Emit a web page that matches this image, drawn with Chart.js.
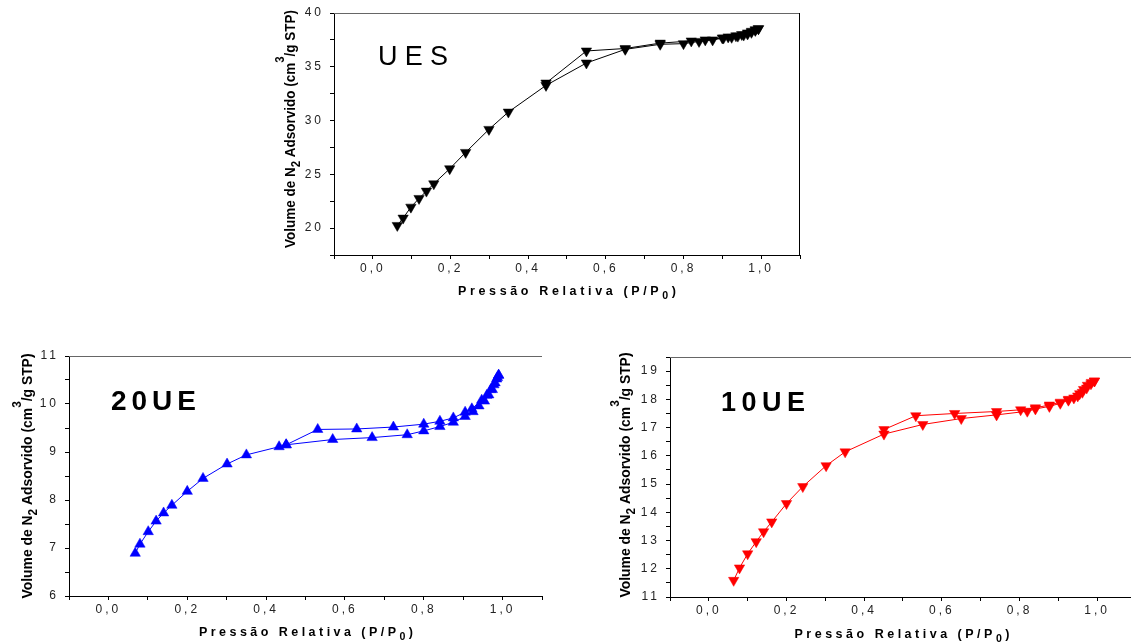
<!DOCTYPE html>
<html><head><meta charset="utf-8">
<script src="https://cdn.jsdelivr.net/npm/chart.js@4"></script>
<style>
html,body{margin:0;padding:0;width:1131px;height:643px;overflow:hidden;background:#fff;position:relative;}
canvas{position:absolute;}
</style></head><body>
<script>
// ---------- DATA ----------
const xTickValues = [0, 0.2, 0.4, 0.6, 0.8, 1.0];
const xTickLabels = ['0,0', '0,2', '0,4', '0,6', '0,8', '1,0'];

// UES (black)
const uesAdsP = [0.063,0.078,0.098,0.119,0.138,0.157,0.198,0.239,0.299,0.349,0.446,0.550,0.650,0.740,0.800,0.840,0.875,0.903,0.924,0.940,0.955,0.965,0.975,0.985,0.993];
const uesAdsV = [20.25,20.93,21.95,22.76,23.44,24.12,25.52,27.04,29.18,30.79,33.27,35.35,36.62,37.09,37.15,37.36,37.50,37.67,37.74,37.85,37.95,38.05,38.20,38.38,38.54];
const uesDesP = [0.993,0.985,0.975,0.965,0.950,0.935,0.915,0.900,0.856,0.820,0.740,0.650,0.550,0.446];
const uesDesV = [38.54,38.45,38.30,38.15,38.00,37.88,37.78,37.68,37.50,37.40,37.20,36.70,36.47,33.49];
const uesYTicks = [20, 25, 30, 35, 40];

// 20UE (blue)
const ue20AdsP = [0.068,0.080,0.101,0.121,0.140,0.161,0.200,0.240,0.301,0.350,0.433,0.451,0.569,0.669,0.758,0.800,0.841,0.875,0.905,0.925,0.940,0.954,0.965,0.974,0.981,0.987,0.990];
const ue20AdsV = [6.89,7.08,7.34,7.56,7.73,7.89,8.18,8.45,8.75,8.94,9.11,9.15,9.26,9.30,9.36,9.44,9.53,9.62,9.74,9.84,9.96,10.06,10.19,10.30,10.44,10.55,10.60];
const ue20DesP = [0.990,0.985,0.978,0.970,0.960,0.947,0.922,0.905,0.875,0.841,0.800,0.723,0.630,0.531,0.451];
const ue20DesV = [10.60,10.52,10.40,10.30,10.18,10.08,9.90,9.83,9.71,9.64,9.58,9.52,9.48,9.47,9.15];
const ue20YTicks = [6, 7, 8, 9, 10, 11];

// 10UE (red)
const ue10AdsP = [0.064,0.079,0.100,0.122,0.141,0.162,0.200,0.242,0.302,0.351,0.451,0.551,0.650,0.741,0.820,0.841,0.877,0.905,0.926,0.950,0.962,0.973,0.984,0.993];
const ue10AdsV = [11.59,12.03,12.53,12.96,13.31,13.66,14.31,14.91,15.65,16.14,16.77,17.11,17.32,17.45,17.58,17.66,17.75,17.86,17.97,18.12,18.25,18.40,18.55,18.65];
const ue10DesP = [0.993,0.985,0.975,0.965,0.955,0.940,0.926,0.905,0.877,0.841,0.803,0.741,0.633,0.533,0.451];
const ue10DesV = [18.65,18.60,18.50,18.35,18.20,18.05,18.00,17.90,17.80,17.70,17.63,17.57,17.50,17.42,16.93];
const ue10YTicks = [11, 12, 13, 14, 15, 16, 17, 18, 19];

// ---------- TEXT ----------
const yTitleSegs = [{t:'Volume de N'},{t:'2',s:'sub'},{t:' Adsorvido (cm'},{t:'3',s:'sup'},{t:'/g STP)'}];
const xTitleSegs = [{t:'Pressão Relativa (P/P'},{t:'0',s:'sub'},{t:')'}];
const FONT = '"Liberation Sans", Arial, sans-serif';

function segFont(seg, size, weight){
  const sz = seg.s ? size*0.85 : size;
  return `${weight} ${sz}px ${FONT}`;
}
function measureSegs(ctx, segs, size, weight, spacing){
  let w = 0, n = 0;
  for (const sg of segs){
    ctx.font = segFont(sg, size, weight);
    ctx.letterSpacing = spacing + 'px';
    w += ctx.measureText(sg.t).width;
    n += sg.t.length;
  }
  return {w, n};
}
function drawRich(ctx, segs, o){
  ctx.save();
  ctx.translate(o.x, o.y);
  ctx.rotate(o.rot || 0);
  ctx.fillStyle = o.color || '#000';
  ctx.textAlign = 'left';
  ctx.textBaseline = 'alphabetic';
  let spacing = o.spacing || 0;
  let sx = 1;
  const m0 = measureSegs(ctx, segs, o.size, o.weight, 0);
  if (o.fit === 'spacing') spacing = (o.len - m0.w) / Math.max(1, m0.n - 1);
  const m = measureSegs(ctx, segs, o.size, o.weight, spacing);
  const total = m.w - spacing;
  if (o.fit === 'scale') sx = o.len / total;
  ctx.scale(sx, 1);
  let x = o.align === 'left' ? 0 : -total/2;
  for (const sg of segs){
    ctx.font = segFont(sg, o.size, o.weight);
    ctx.letterSpacing = spacing + 'px';
    const dy = sg.s === 'sub' ? o.size*0.35 : (sg.s === 'sup' ? -o.size*0.8 : 0);
    ctx.fillText(sg.t, x, dy);
    x += ctx.measureText(sg.t).width;
  }
  ctx.restore();
}

function labelFor(v, vals, labs){
  for (let i = 0; i < vals.length; i++) if (Math.abs(v - vals[i]) < 1e-6) return labs[i];
  return '';
}
function range(a, b, step){
  const out = []; const n = Math.round((b - a)/step);
  for (let i = 0; i <= n; i++) out.push(+(a + i*step).toFixed(6));
  return out;
}

function makeChart(opt){
  const W_AX = 80, PAD_T = 15, PAD_R = 15, H_AX = 50;
  const pw = opt.plot.right - opt.plot.left, ph = opt.plot.bottom - opt.plot.top;
  const cw = pw + W_AX + PAD_R, ch = ph + PAD_T + H_AX;
  const cl = opt.plot.left - W_AX, ct = opt.plot.top - PAD_T;
  const canvas = document.createElement('canvas');
  canvas.width = cw; canvas.height = ch;
  canvas.style.left = cl + 'px'; canvas.style.top = ct + 'px';
  canvas.style.width = cw + 'px'; canvas.style.height = ch + 'px';
  document.body.appendChild(canvas);

  const deco = {
    id: 'deco',
    beforeDraw(chart){ chart.ctx.letterSpacing = '3px'; },
    afterDraw(chart){
      const ctx = chart.ctx, a = chart.chartArea;
      ctx.save();
      ctx.letterSpacing = '0px';
      ctx.lineWidth = 1;
      ctx.strokeStyle = '#666';
      ctx.beginPath();
      ctx.moveTo(a.left, Math.round(a.top) + 0.5);
      ctx.lineTo(a.right, Math.round(a.top) + 0.5);
      ctx.stroke();
      if (opt.rightBorder){
        ctx.strokeStyle = '#000';
        ctx.beginPath();
        ctx.moveTo(Math.round(a.right) - 0.5, a.top);
        ctx.lineTo(Math.round(a.right) - 0.5, a.bottom);
        ctx.stroke();
      }
      ctx.restore();
      // y title
      drawRich(ctx, yTitleSegs, {x: opt.yTitle.x - cl, y: opt.yTitle.y - ct, rot: -Math.PI/2,
        size: 14, weight: 'bold', fit: 'scale', len: opt.yTitle.len});
      // x title
      drawRich(ctx, xTitleSegs, {x: opt.xTitle.x - cl, y: opt.xTitle.y - ct,
        size: 12.5, weight: 'bold', fit: 'spacing', len: opt.xTitle.len});
      // sample label
      drawRich(ctx, [{t: opt.label.text}], {x: opt.label.x - cl, y: opt.label.y - ct, align: 'left',
        size: opt.label.size, weight: opt.label.weight, fit: 'spacing', len: opt.label.len});
      ctx.letterSpacing = '0px';
    }
  };

  const mk = (px, py) => ({
    data: px.map((v, i) => ({x: v, y: py[i]})),
    showLine: true,
    borderColor: opt.color,
    backgroundColor: opt.color,
    borderWidth: 1,
    pointStyle: 'triangle',
    pointRotation: opt.rot,
    pointRadius: opt.r,
    pointHoverRadius: opt.r,
    pointBorderWidth: 0.5,
    pointBorderColor: opt.color
  });

  const tickFont = {family: FONT, size: 12};
  new Chart(canvas, {
    type: 'scatter',
    data: {datasets: [mk(opt.ads[0], opt.ads[1]), mk(opt.des[0], opt.des[1])]},
    options: {
      responsive: false, devicePixelRatio: 1, animation: false, events: [],
      plugins: {legend: {display: false}, tooltip: {enabled: false}},
      layout: {autoPadding: false, padding: {left: 0, top: PAD_T, right: PAD_R, bottom: 0}},
      scales: {
        x: {
          type: 'linear', position: 'bottom', min: -0.1, max: 1.1,
          afterBuildTicks: s => { s.ticks = range(-0.1, 1.1, 0.1).map(v => ({value: v})); },
          afterFit: s => { s.height = H_AX; },
          ticks: {autoSkip: false, maxRotation: 0, minRotation: 0, padding: 2, color: '#222', font: tickFont,
            callback: v => labelFor(v, xTickValues, xTickLabels)},
          grid: {drawOnChartArea: false, drawTicks: true, tickLength: 4, color: '#000', lineWidth: 1},
          border: {display: true, color: '#000', width: 1}
        },
        y: {
          type: 'linear', position: 'left', min: opt.yMin, max: opt.yMax,
          afterBuildTicks: s => { s.ticks = range(opt.yMin, opt.yMax, opt.yMinor).map(v => ({value: v})); },
          afterFit: s => { s.width = W_AX; },
          ticks: {autoSkip: false, padding: 6, color: '#222', font: tickFont,
            callback: v => labelFor(v, opt.yTicks, opt.yTicks.map(String))},
          grid: {drawOnChartArea: false, drawTicks: true, tickLength: 4, color: '#000', lineWidth: 1},
          border: {display: true, color: '#000', width: 1}
        }
      }
    },
    plugins: [deco]
  });
}

// UES
makeChart({
  plot: {left: 334, top: 13, right: 800, bottom: 255},
  yMin: 17.5, yMax: 40, yMinor: 2.5, yTicks: uesYTicks,
  color: '#000', rot: 180, r: 6, rightBorder: true,
  ads: [uesAdsP, uesAdsV], des: [uesDesP, uesDesV],
  yTitle: {x: 295, y: 129, len: 238},
  xTitle: {x: 567, y: 295, len: 218},
  label: {text: 'UES', x: 378, y: 65, size: 27, weight: 'normal', len: 70}
});
// 20UE
makeChart({
  plot: {left: 69, top: 356, right: 542, bottom: 596},
  yMin: 6, yMax: 11, yMinor: 0.5, yTicks: ue20YTicks,
  color: '#0000ff', rot: 0, r: 6, rightBorder: false,
  ads: [ue20AdsP, ue20AdsV], des: [ue20DesP, ue20DesV],
  yTitle: {x: 32, y: 476, len: 245},
  xTitle: {x: 306, y: 636, len: 214},
  label: {text: '20UE', x: 111, y: 410, size: 28, weight: 'bold', len: 85}
});
// 10UE
makeChart({
  plot: {left: 670, top: 357, right: 1136, bottom: 597},
  yMin: 11, yMax: 19.5, yMinor: 0.5, yTicks: ue10YTicks,
  color: '#ff0000', rot: 180, r: 6, rightBorder: false,
  ads: [ue10AdsP, ue10AdsV], des: [ue10DesP, ue10DesV],
  yTitle: {x: 630, y: 475, len: 245},
  xTitle: {x: 902, y: 638, len: 215},
  label: {text: '10UE', x: 721, y: 411, size: 27, weight: 'bold', len: 84}
});
</script>
</body></html>
